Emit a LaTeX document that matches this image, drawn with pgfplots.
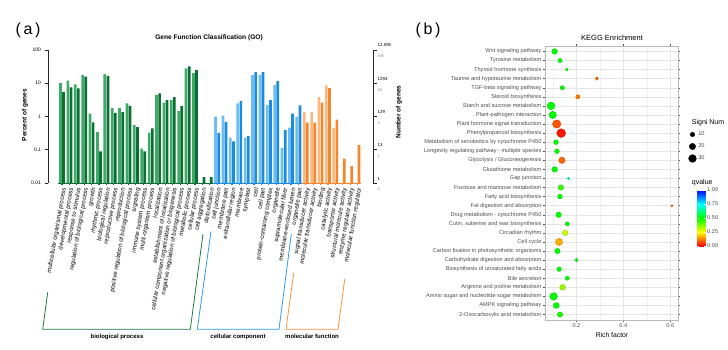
\documentclass[border=0pt]{standalone}
\usepackage{fontspec}
\setmainfont{Liberation Sans}
\usepackage{pgfplots}
\usepackage{pgfplotstable}
\pgfplotsset{compat=1.18}

\definecolor{glight}{HTML}{3DAA66}
\definecolor{gdark}{HTML}{0B6E33}
\definecolor{blight}{HTML}{6CBDF2}
\definecolor{bdark}{HTML}{1A8CE0}
\definecolor{olight}{HTML}{FBB77C}
\definecolor{odark}{HTML}{F5842A}
\definecolor{gbr}{HTML}{1B7A3E}
\definecolor{bbr}{HTML}{2A9BF0}
\definecolor{obr}{HTML}{F5923E}
\definecolor{txtgray}{HTML}{4D4D4D}

\newcommand\fsz[1]{\fontsize{#1}{#1}\selectfont}
\newcommand\lbl[2]{\begin{tabular}{@{}l@{}}\fsz{4.4}#1\\[-1.2pt]{\color{gray}\fsz{3.8}#2}\end{tabular}}

% GO classification: percent of genes (all genes / DEGs)
\pgfplotstableread{
x light dark
0 10 5.4
1 11.9 7.5
2 9.2 7.0
3 18 15.7
4 1.23 0.67
5 0.34 0.09
6 18.9 16.8
7 1.78 1.29
8 1.78 1.35
9 2.5 2.1
10 0.55 0.48
11 0.108 0.09
12 0.33 0.44
13 4.4 5.0
14 2.6 3.1
15 3.1 3.8
16 1.45 2.05
17 28 32
18 20 25
19 nan 0.015
20 nan 0.015
}\gobp
\pgfplotstableread{
x light dark
21 1.0 0.32
22 1.06 0.69
23 0.23 0.18
24 2.5 2.9
25 0.23 0.26
26 17.7 21.7
27 17.7 21.7
28 2.2 3.1
29 8.8 11.6
30 0.114 0.39
31 0.46 1.23
32 1.0 2.15
}\gocc
\pgfplotstableread{
x light dark
33 1.36 0.65
34 1.36 0.65
35 3.8 2.6
36 8.6 7.1
37 0.46 0.80
38 nan 0.054
39 nan 0.032
40 nan 0.137
}\gomf

% KEGG enrichment: rich factor, significant gene number, q value
\pgfplotstableread{
idx rf n q
1 0.107 16 0.50
2 0.130 9 0.50
3 0.159 4 0.50
4 0.287 5 0.10
5 0.140 9 0.50
6 0.206 9 0.12
7 0.092 30 0.50
8 0.099 26 0.50
9 0.116 34 0.08
10 0.135 38 0.02
11 0.113 11 0.50
12 0.117 11 0.50
13 0.138 20 0.10
14 0.107 15 0.50
15 0.166 3 0.72
16 0.134 15 0.45
17 0.130 11 0.50
18 0.607 2 0.10
19 0.124 15 0.50
20 0.161 8 0.50
21 0.152 15 0.30
22 0.126 25 0.17
23 0.119 14 0.50
24 0.200 6 0.50
25 0.126 10 0.50
26 0.161 8 0.50
27 0.141 16 0.35
28 0.103 28 0.50
29 0.114 17 0.50
30 0.130 14 0.48
}\kegg

\begin{document}
\begin{tikzpicture}
\path[use as bounding box] (0,0) rectangle (728pt,349pt);

% ---------------- GO panel ----------------
\begin{axis}[
  at={(48pt,166pt)}, anchor=south west,
  scale only axis, width=325pt, height=133pt,
  ymode=log, ymin=0.01, ymax=100, log origin=infty,
  xmin=-1.9, xmax=42.1,
  axis lines*=left,
  x axis line style={draw=none},
  y axis line style={line width=0.6pt, black!85},
  xtick={0,...,40},
  xtick style={draw=none},
  xticklabels={{multicellular organismal process},{developmental process},{response to stimulus},{regulation of biological process},{growth},{rhythmic process},{biological regulation},{reproductive process},{reproduction},{positive regulation of biological process},{signaling},{immune system process},{multi-organism process},{localization},{establishment of localization},{cellular component organization or biogenesis},{negative regulation of biological process},{metabolic process},{cellular process},{cell aggregation},{detoxification},{cell junction},{membrane part},{extracellular region},{membrane},{symplast},{cell},{cell part},{protein-containing complex},{organelle},{supramolecular fiber},{membrane-enclosed lumen},{organelle part},{signal transducer activity},{molecular transducer activity},{binding},{catalytic activity},{transporter activity},{structural molecule activity},{enzyme regulator activity},{molecular function regulator}},
  xticklabel style={rotate=80, anchor=east, font=\fsz{6.1}, inner sep=1pt, yshift=-2.5pt},
  ytick={0.01,0.1,1,10,100},
  yticklabels={0.01,0.1,1,10,100},
  yticklabel style={font=\fsz{5}},
  yminorticks=false,
  tick align=outside, major tick length=3.5pt,
  ytick style={line width=0.6pt, black!85},
  clip=false,
]
\addplot[ybar, bar width=2.7pt, bar shift=-1.55pt, fill=glight, draw=none] table[x=x,y=light]{\gobp};
\addplot[ybar, bar width=2.7pt, bar shift=1.55pt, fill=gdark, draw=none] table[x=x,y=dark]{\gobp};
\addplot[ybar, bar width=2.7pt, bar shift=-1.55pt, fill=blight, draw=none] table[x=x,y=light]{\gocc};
\addplot[ybar, bar width=2.7pt, bar shift=1.55pt, fill=bdark, draw=none] table[x=x,y=dark]{\gocc};
\addplot[ybar, bar width=2.7pt, bar shift=-1.55pt, fill=olight, draw=none] table[x=x,y=light]{\gomf};
\addplot[ybar, bar width=2.7pt, bar shift=1.55pt, fill=odark, draw=none] table[x=x,y=dark]{\gomf};
% coloured category baseline with short ticks
\draw[gdark, line width=0.7pt] (axis cs:-0.5,0.01) -- (axis cs:20.5,0.01);
\draw[bdark, line width=0.7pt] (axis cs:20.5,0.01) -- (axis cs:32.5,0.01);
\draw[odark, line width=0.7pt] (axis cs:32.5,0.01) -- (axis cs:40.5,0.01);
\pgfplotsinvokeforeach{0,...,20}{\draw[gdark, line width=1.2pt] (axis cs:#1,0.01) -- ([yshift=-2pt]axis cs:#1,0.01);}
\pgfplotsinvokeforeach{21,...,32}{\draw[bdark, line width=1.2pt] (axis cs:#1,0.01) -- ([yshift=-2pt]axis cs:#1,0.01);}
\pgfplotsinvokeforeach{33,...,40}{\draw[odark, line width=1.2pt] (axis cs:#1,0.01) -- ([yshift=-2pt]axis cs:#1,0.01);}
\end{axis}

% secondary scale: number of genes
\begin{axis}[
  at={(372pt,166pt)}, anchor=south west,
  scale only axis, width=1pt, height=133pt,
  ymode=log, ymin=0.01, ymax=100, xmin=0, xmax=1,
  axis y line*=right, hide x axis,
  y axis line style={line width=0.6pt, black!85},
  ytick={0.01,0.1,1,10,100},
  yticklabels={{\lbl{1}{0}},{\lbl{13}{1}},{\lbl{129}{9}},{\lbl{1294}{88}},{\lbl{12,595}{885}}},
  yticklabel style={anchor=west, inner sep=1pt},
  yminorticks=false,
  tick align=outside, major tick length=3.5pt,
  ytick style={line width=0.6pt, black!85},
]
\end{axis}

\node[rotate=90, font=\fsz{6.5}\bfseries] at (25pt,234pt) {Percent of genes};
\node[rotate=90, font=\fsz{6.5}\bfseries] at (399pt,237pt) {Number of genes};
\node[font=\fsz{6.6}\bfseries] at (209pt,311pt) {Gene Function Classification (GO)};
\node[font=\fsz{16}] at (28pt,319pt) {(\,a\,)};
\node[font=\fsz{16}] at (428pt,319pt) {(\,b\,)};

% group brackets
\draw[gbr, line width=0.8pt] (47.7pt,56.7pt) -- (42.7pt,19.7pt) -- (190.3pt,19.7pt) -- (203pt,115pt);
\draw[bbr, line width=0.8pt] (211pt,117.7pt) -- (197.3pt,19.7pt) -- (279pt,19.7pt) -- (291.3pt,115pt);
\draw[obr, line width=0.8pt] (293.7pt,76pt) -- (286pt,19.7pt) -- (338pt,19.7pt) -- (344.7pt,70pt);
\node[font=\fsz{6}\bfseries] at (117pt,12.5pt) {biological process};
\node[font=\fsz{6}\bfseries] at (238pt,12.5pt) {cellular component};
\node[font=\fsz{6}\bfseries] at (312pt,12.5pt) {molecular function};

% ---------------- KEGG panel ----------------
\begin{axis}[
  at={(545pt,29pt)}, anchor=south west,
  scale only axis, width=133pt, height=274pt,
  xmin=0.066, xmax=0.633, ymin=0.4, ymax=30.6, y dir=reverse,
  xtick={0.2,0.4,0.6}, xticklabels={0.2,0.4,0.6},
  minor xtick={0.1,0.3,0.5},
  ytick={1,...,30},
  yticklabels={{Wnt signaling pathway},{Tyrosine metabolism},{Thyroid hormone synthesis},{Taurine and hypotaurine metabolism},{TGF-beta signaling pathway},{Steroid biosynthesis},{Starch and sucrose metabolism},{Plant-pathogen interaction},{Plant hormone signal transduction},{Phenylpropanoid biosynthesis},{Metabolism of xenobiotics by cytochrome P450},{Longevity regulating pathway - multiple species},{Glycolysis / Gluconeogenesis},{Glutathione metabolism},{Gap junction},{Fructose and mannose metabolism},{Fatty acid biosynthesis},{Fat digestion and absorption},{Drug metabolism - cytochrome P450},{Cutin, suberine and wax biosynthesis},{Circadian rhythm},{Cell cycle},{Carbon fixation in photosynthetic organisms},{Carbohydrate digestion and absorption},{Biosynthesis of unsaturated fatty acids},{Bile secretion},{Arginine and proline metabolism},{Amino sugar and nucleotide sugar metabolism},{AMPK signaling pathway},{2-Oxocarboxylic acid metabolism}},
  yticklabel style={font=\fsz{5.6}, text=txtgray, inner sep=1.2pt},
  xticklabel style={font=\fsz{5.6}, text=txtgray, inner sep=1.5pt},
  grid=both,
  major grid style={gray!20, line width=0.45pt},
  minor grid style={gray!10, line width=0.3pt},
  axis line style={gray!55, line width=0.5pt},
  tick align=outside, major tick length=2.2pt, minor tick length=0pt,
  tick style={txtgray, line width=0.4pt},
  colormap={qv}{rgb255=(255,0,0) rgb255=(255,255,0) rgb255=(0,255,0) rgb255=(0,255,255) rgb255=(0,0,255)},
  point meta min=0, point meta max=1,
  colorbar,
  colorbar style={
    at={(parent axis.north east)}, anchor=north west,
    xshift=11pt, yshift=-144pt,
    scale only axis, width=8pt, height=56pt,
    ytick={0,0.25,0.5,0.75,1},
    yticklabels={0.00,0.25,0.50,0.75,1.00},
    yticklabel style={font=\fsz{5.6}, text=txtgray, inner sep=1.5pt},
    axis line style={draw=none},
    tick align=inside, major tick length=1.6pt,
    tick style={draw=white, line width=0.4pt},
  },
  legend style={at={(axis description cs:1.078,0.695)}, anchor=north west, draw=none, fill=none,
    font=\fsz{5.6}, inner sep=0pt, row sep=2.6pt, text=txtgray},
  legend cell align=left,
  legend image code/.code={\draw[mark repeat=2,mark phase=2,#1] plot coordinates {(0cm,0cm) (0.13cm,0cm) (0.26cm,0cm)};},
  clip=false,
]
\addplot[scatter, only marks, mark=*, forget plot, point meta=explicit,
  visualization depends on={0.71*sqrt(\thisrow{n}) \as \msize},
  scatter/@pre marker code/.append style={/tikz/mark size=\msize}]
  table[x=rf, y=idx, meta=q]{\kegg};
\addlegendimage{only marks, mark=*, black, mark size=2.25pt}
\addlegendentry{10}
\addlegendimage{only marks, mark=*, black, mark size=3.18pt}
\addlegendentry{20}
\addlegendimage{only marks, mark=*, black, mark size=3.89pt}
\addlegendentry{30}
\node[anchor=west, font=\fsz{7}] at (axis description cs:1.078,0.719) {Signi Num};
\node[anchor=south west, font=\fsz{7}] at (axis description cs:1.078,0.477) {qvalue};
\end{axis}
\node[font=\fsz{7.5}] at (612pt,311pt) {KEGG Enrichment};
\node[font=\fsz{6.8}] at (612pt,14pt) {Rich factor};
\end{tikzpicture}
\end{document}
